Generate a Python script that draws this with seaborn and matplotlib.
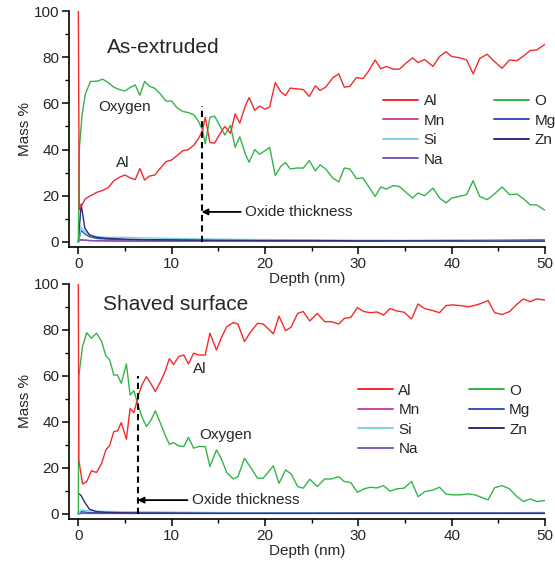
import matplotlib
matplotlib.use("Agg")
import matplotlib.pyplot as plt
import pandas as pd
import seaborn as sns
from matplotlib.lines import Line2D

# ---- data (depth in nm, mass %) ----
top_depth = [0, 0.1, 0.4, 0.75, 1.3, 2.0, 2.6, 3.2, 3.8, 4.4, 5.0, 5.6, 6.1, 6.6, 7.1, 7.6,
             8.2, 8.8, 9.4, 10.0, 10.6, 11.2, 11.8, 12.4, 12.9, 13.3, 13.6, 14.1, 14.6, 15.2,
             15.7, 16.3, 16.8, 17.3, 17.9, 18.3, 18.9, 19.4, 20.0, 20.5, 21.1, 21.7, 22.2,
             22.7, 23.4, 24.1, 24.75, 25.4, 25.9, 26.5, 27.25, 27.9, 28.5, 29.1, 29.8, 30.5,
             31.1, 31.8, 32.4, 33.0, 33.75, 34.4, 35.1, 35.8, 36.4, 37.1, 38.0, 38.7, 39.4,
             40.0, 40.8, 41.6, 42.3, 43.0, 43.8, 44.5, 45.4, 46.2, 47.0, 47.7, 48.4, 49.1, 50.0]
top_al = [100, 14, 16, 18.7, 20, 21.5, 22.3, 23.5, 26.5, 28, 29, 27.6, 27, 31.8, 26.8, 28.5,
          29, 32, 34.8, 35.5, 37.5, 39.5, 40, 42, 45, 48, 54, 43, 42.8, 47, 50, 47, 55.5, 51.5,
          59, 62.5, 57, 58.8, 57.5, 58.5, 69, 65, 63.4, 66.6, 66.3, 66, 63, 67.6, 65.6, 67, 71,
          72.8, 67, 67.4, 71.2, 70.7, 74, 78.8, 75, 76, 74.8, 74.8, 77.4, 79.7, 77.7, 79, 76,
          80.3, 82.4, 80.3, 79.8, 78.8, 72.8, 79.4, 81.3, 78.4, 75.2, 78.8, 78.5, 80.5, 82.9,
          83.1, 85.6]
top_o = [0, 40, 55, 64, 69.5, 69.6, 70.5, 69, 67, 66, 65.4, 67, 68, 63.5, 69.5, 67.5, 66.5,
         64, 61, 61, 58, 56.5, 56, 55, 52, 48.5, 42.5, 54, 54.5, 50, 46.3, 50.5, 41, 45.5, 38,
         34.5, 40, 38, 39.5, 41, 28.8, 32.7, 34.4, 31.6, 32, 32, 35.2, 30.8, 33.4, 31.6, 27.7,
         26, 32, 31.6, 27.4, 27.7, 24, 19.7, 23.8, 22.9, 24.4, 24, 21.5, 19, 21.2, 20, 23.3, 19,
         16.9, 19, 19.7, 20.5, 26.5, 19.7, 18.3, 20.5, 23.8, 20.5, 20.7, 18.7, 16.1, 16, 13.7]

bot_depth = [0, 0.05, 0.45, 0.9, 1.4, 1.95, 2.5, 2.95, 3.35, 3.8, 4.2, 4.6, 5.15, 5.55, 5.95,
             6.45, 6.8, 7.3, 7.8, 8.25, 8.8, 9.3, 9.75, 10.2, 10.75, 11.3, 11.8, 12.35, 12.9,
             13.6, 14.1, 14.8, 15.3, 15.9, 16.6, 17.1, 17.8, 18.4, 19.2, 19.8, 20.4, 20.9, 21.5,
             22.2, 22.8, 23.5, 24.1, 24.8, 25.6, 26.4, 27.1, 27.9, 28.5, 29.2, 29.9, 30.6, 31.3,
             32.0, 32.7, 33.4, 34.1, 34.9, 35.7, 36.4, 37.1, 38.0, 38.7, 39.4, 40.1, 40.9, 41.8,
             42.5, 43.2, 43.9, 44.6, 45.4, 46.2, 47.0, 47.7, 48.4, 49.1, 50.0]
bot_al = [100, 23.5, 13, 14, 18.8, 18, 22, 27.8, 29.7, 35.8, 36.1, 39.7, 32.5, 45.9, 44, 51.7,
          56, 59.7, 56.5, 53.2, 57.5, 62, 67.5, 65, 68.4, 69.1, 65.2, 69.9, 69.1, 69.1, 78.6,
          71.3, 76.4, 81.4, 83.2, 82.6, 74.9, 78.8, 82.9, 82.6, 80.3, 78.3, 86, 79.7, 81.2,
          87.2, 88, 83.9, 87.2, 83.6, 83.6, 82.6, 85, 85.5, 89.7, 88, 87.5, 87.8, 86.5, 89.3,
          88.3, 87.7, 84.8, 91.3, 89.3, 88.4, 87.5, 90.6, 90.9, 90.6, 90.1, 90.7, 91.6, 92.8,
          87.5, 86.7, 88, 91.2, 93.5, 92.3, 93.5, 93]
bot_o = [0, 59.7, 72.8, 78.8, 76.4, 78.6, 75, 68.7, 67.2, 60.4, 60.4, 56.8, 65.2, 51.7, 53.6,
         46.7, 42.3, 38, 40.9, 44.8, 39.4, 34.3, 30.3, 31, 29.6, 29.3, 33.3, 28.6, 29.3, 29.3,
         20.6, 27.8, 24.2, 18, 15.2, 16.2, 24.2, 20.6, 15.5, 15.5, 18.4, 20.9, 13.3, 19.1, 17.4,
         11.9, 11.2, 15.1, 11.9, 15.2, 15.2, 16.2, 14.1, 13.6, 9.4, 10.9, 11.6, 11.3, 12.3, 9.9,
         10.9, 11.2, 14.1, 7.5, 9.7, 10.4, 11.6, 8.6, 8.3, 8.3, 8.7, 8.3, 7.2, 6.1, 11.4, 12.3,
         10.9, 7.5, 5.4, 6.5, 5.4, 5.8]

minor_depth = [0, 0.3, 0.7, 1.2, 2, 3, 5, 7, 10, 15, 20, 25, 30, 35, 40, 45, 50]
top_zn = [0, 16.4, 6, 3, 2, 1.6, 1.2, 1.0, 0.9, 0.7, 0.6, 0.6, 0.5, 0.5, 0.5, 0.4, 0.4]
top_si = [0, 6.5, 4.5, 3, 2.2, 2, 2, 1.8, 1.5, 1.2, 1.0, 0.9, 0.7, 0.6, 0.6, 0.5, 0.5]
top_mg = [0, 5, 3.5, 2.2, 1.5, 1.2, 1.0, 0.9, 0.8, 0.7, 0.6, 0.5, 0.5, 0.4, 0.4, 0.4, 0.4]
top_mn = [0.8, 0.8, 0.7, 0.6, 0.5, 0.5, 0.5, 0.5, 0.5, 0.5, 0.5, 0.5, 0.6, 0.6, 0.7, 0.8, 1.0]
top_na = [0.3, 1.0, 0.8, 0.6, 0.5, 0.4, 0.3, 0.3, 0.3, 0.3, 0.3, 0.3, 0.3, 0.3, 0.3, 0.3, 0.3]
bot_zn = [9, 8, 5, 2, 1, 0.7, 0.5, 0.4, 0.4, 0.3, 0.3, 0.3, 0.3, 0.3, 0.3, 0.3, 0.3]
bot_si = [0, 1.8, 1.5, 1.3, 1.2, 1.1, 1.0, 0.9, 0.8, 0.6, 0.5, 0.5, 0.4, 0.4, 0.4, 0.4, 0.4]
bot_mg = [0, 1, 0.8, 0.6, 0.5, 0.5, 0.4, 0.4, 0.4, 0.4, 0.4, 0.4, 0.4, 0.4, 0.4, 0.4, 0.4]
bot_mn = [0.3, 0.3, 0.3, 0.3, 0.3, 0.3, 0.3, 0.3, 0.3, 0.3, 0.3, 0.3, 0.4, 0.4, 0.4, 0.5, 0.6]
bot_na = [0, 0.2, 0.2, 0.2, 0.2, 0.2, 0.2, 0.2, 0.2, 0.2, 0.2, 0.2, 0.2, 0.2, 0.2, 0.2, 0.2]

oxide_thickness = [13.2, 6.35]  # nm, top / bottom panel

legend_order = ["Al", "Mn", "Si", "Na", "O", "Mg", "Zn"]
palette = {
    "Al": "#f52a2a",
    "O": "#35b44a",
    "Mn": "#cc47a8",
    "Mg": "#3454b4",
    "Si": "#7fd3e5",
    "Zn": "#2c2c7c",
    "Na": "#7b58b8",
}


def _long(major_d, al, o, zn, si, mg, mn, na):
    parts = [
        pd.DataFrame({"depth": major_d, "mass": al, "element": "Al"}),
        pd.DataFrame({"depth": major_d, "mass": o, "element": "O"}),
    ]
    for name, vals in [("Mn", mn), ("Na", na), ("Mg", mg), ("Si", si), ("Zn", zn)]:
        parts.append(pd.DataFrame({"depth": minor_depth, "mass": vals, "element": name}))
    return pd.concat(parts, ignore_index=True)


top_df = _long(top_depth, top_al, top_o, top_zn, top_si, top_mg, top_mn, top_na)
bot_df = _long(bot_depth, bot_al, bot_o, bot_zn, bot_si, bot_mg, bot_mn, bot_na)

sns.set_style("ticks")
plt.rcParams["font.family"] = ["Liberation Sans", "DejaVu Sans"]
plt.rcParams["axes.linewidth"] = 1.2

fig = plt.figure(figsize=(5.55, 5.71), dpi=100)
ax_bot = fig.add_axes([0.1243, 0.0911, 0.8577, 0.4116])
ax_top = fig.add_axes([0.1243, 0.5674, 0.8577, 0.4133])
ax_bot.patch.set_alpha(0)
ax_top.patch.set_alpha(0)

draw_order = ["Mn", "Na", "Mg", "Si", "Zn", "O", "Al"]


def _panel(ax, df, thick, dash_top, arrow_y, text_x, title, title_y, lbl, leg_anchor):
    sns.lineplot(data=df, x="depth", y="mass", hue="element", hue_order=draw_order,
                 palette=palette, estimator=None, sort=False, linewidth=1.0,
                 legend=False, ax=ax)
    ax.set_xlim(-1, 50)
    ax.set_ylim(-2.2, 100)
    ax.set_xticks([0, 10, 20, 30, 40, 50])
    ax.set_xticks([5, 15, 25, 35, 45], minor=True)
    ax.set_yticks([0, 20, 40, 60, 80, 100])
    ax.set_yticks([10, 30, 50, 70, 90], minor=True)
    ax.tick_params(which="major", direction="out", length=5, width=1.1, labelsize=11,
                   color="black", pad=2)
    ax.tick_params(which="minor", direction="out", length=3, width=1.0, color="black")
    for s in ["top", "right"]:
        ax.spines[s].set_visible(False)
    for s in ["left", "bottom"]:
        ax.spines[s].set_color("black")
    ax.set_xlabel("Depth (nm)", fontsize=11, labelpad=1)
    ax.set_ylabel("Mass %", fontsize=11, labelpad=1)

    ax.plot([thick, thick], [0, dash_top], color="black", linestyle=(0, (3, 2)), linewidth=1.5)
    ax.annotate("Oxide thickness", xy=(thick, arrow_y), xytext=(text_x, arrow_y),
                ha="left", va="center", fontsize=11,
                arrowprops=dict(arrowstyle="-|>", color="black", lw=1.3,
                                shrinkA=1, shrinkB=0, mutation_scale=9))
    ax.text(title[1], title_y, title[0], fontsize=15, ha="left", va="center")
    for txt, x, y in lbl:
        ax.text(x, y, txt, fontsize=11, ha="left", va="center")

    handles = [Line2D([], [], color=palette[e], linewidth=1.4) for e in legend_order]
    ax.legend(handles, legend_order, loc="upper left", bbox_to_anchor=leg_anchor,
              ncol=2, frameon=False, fontsize=11, handlelength=2.3, handletextpad=0.35,
              columnspacing=3.2, labelspacing=0.36, borderpad=0, borderaxespad=0)


_panel(ax_top, top_df, oxide_thickness[0], 59, 13, 17.9, ("As-extruded", 3.1), 84,
       [("Oxygen", 2.1, 58.5), ("Al", 4.0, 34)], (0.66, 0.647))
_panel(ax_bot, bot_df, oxide_thickness[1], 60, 6, 12.2, ("Shaved surface", 2.6), 91,
       [("Al", 12.3, 63), ("Oxygen", 13.0, 34.3)], (0.607, 0.576))

fig.savefig("out.png", dpi=100)
